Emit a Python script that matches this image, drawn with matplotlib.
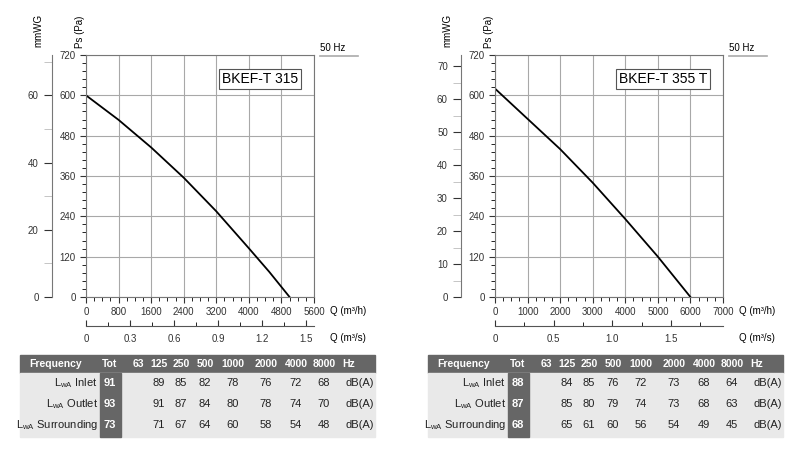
import matplotlib
matplotlib.use("Agg")
import matplotlib.pyplot as plt
from matplotlib.patches import Rectangle
import numpy as np

models = ["BKEF-T 315", "BKEF-T 355 T"]
q1 = [0, 800, 1600, 2400, 3200, 4000, 4500, 5000]
p1 = [600, 527, 445, 355, 255, 145, 75, 0]
q2 = [0, 1000, 2000, 3000, 4000, 5000, 6000]
p2 = [620, 530, 440, 340, 232, 120, 0]
freqs = ["63", "125", "250", "500", "1000", "2000", "4000", "8000"]
rows = ["Inlet", "Outlet", "Surrounding"]
tot1 = [91, 93, 73]
vals1 = [[None, 89, 85, 82, 78, 76, 72, 68], [None, 91, 87, 84, 80, 78, 74, 70], [None, 71, 67, 64, 60, 58, 54, 48]]
tot2 = [88, 87, 68]
vals2 = [[None, 84, 85, 76, 72, 73, 68, 64], [None, 85, 80, 79, 74, 73, 68, 63], [None, 65, 61, 60, 56, 54, 49, 45]]

W, H = 800, 461
fig = plt.figure(figsize=(8, 4.61), dpi=100)
plt.rcParams['font.family'] = ['Liberation Sans', 'DejaVu Sans']

def fx(x): return x / W
def fy(y): return 1 - y / H

def chart(x0, q, p, model, xmax, xstep, mmmax, mmstep, pa_per_mm, qs_ticks):
    ax = fig.add_axes([fx(x0), fy(297), 228 / W, 242 / H])
    ax.plot(q, p, color='black', lw=1.3)
    ax.set_xlim(0, xmax); ax.set_ylim(0, 720)
    ax.set_xticks(np.arange(0, xmax + 1, xstep))
    ax.set_yticks(np.arange(0, 721, 120))
    ax.set_xticks(np.arange(0, xmax + 1, xstep / 4), minor=True)
    ax.set_yticks(np.arange(0, 721, 24), minor=True)
    ax.grid(True, color='#a8a8a8', lw=0.8)
    ax.tick_params(labelsize=7, colors='#333333', length=4)
    ax.tick_params(which='minor', length=3)
    for s in ax.spines.values(): s.set_color('#777777')
    ax.text(0.93, 0.93, model, transform=ax.transAxes, ha='right', va='top', fontsize=10,
            bbox=dict(fc='white', ec='#555555', pad=2, lw=0.8))
    fig.text(fx(x0 + 244), fy(311), "Q (m³/h)", fontsize=7, va='center')
    fig.text(fx(x0 - 6), fy(32), "Ps (Pa)", fontsize=7, rotation=90, ha='center', va='center')
    fig.text(fx(x0 - 48), fy(30), "mmWG", fontsize=7, rotation=90, ha='center', va='center')
    fig.text(fx(x0 + 234), fy(48), "50 Hz", fontsize=7, va='center')
    fig.add_artist(plt.Line2D([fx(x0 + 234), fx(x0 + 272)], [fy(56), fy(56)], color='#aaaaaa', lw=1.2))
    am = fig.add_axes([fx(x0 - 34), fy(297), 0.001, 242 / H])
    am.set_ylim(0, 720 / pa_per_mm)
    am.set_yticks(np.arange(0, mmmax + 1, mmstep))
    am.set_yticks(np.arange(0, 720 / pa_per_mm, mmstep / 2), minor=True)
    am.set_xticks([])
    for s in ['top', 'right', 'bottom']: am.spines[s].set_visible(False)
    am.spines['left'].set_color('#777777')
    am.tick_params(labelsize=7, colors='#333333', length=6)
    am.tick_params(which='minor', length=6, color='#bbbbbb')
    aq = fig.add_axes([fx(x0), fy(326), 228 / W, 0.001])
    aq.set_xlim(0, xmax / 3600)
    aq.set_yticks([])
    aq.set_xticks(qs_ticks)
    aq.set_xticklabels([("%g" % t) if t != 1.0 else "1.0" for t in qs_ticks])
    aq.set_xticks(np.arange(0, xmax / 3600, qs_ticks[1] / 2), minor=True)
    for s in ['left', 'right', 'bottom']: aq.spines[s].set_visible(False)
    aq.spines['top'].set_color('#555555')
    aq.xaxis.set_ticks_position('top')
    aq.tick_params(axis='x', labelsize=7, colors='#333333', length=4, labeltop=False, labelbottom=True, pad=2)
    aq.tick_params(which='minor', length=3)
    fig.text(fx(x0 + 244), fy(338), "Q (m³/s)", fontsize=7, va='center')

chart(86, q1, p1, models[0], 5600, 800, 60, 20, 10.0, [0, 0.3, 0.6, 0.9, 1.2, 1.5])
chart(495, q2, p2, models[1], 7000, 1000, 70, 10, 9.81, [0, 0.5, 1.0, 1.5])

def table(x0, tot, vals):
    dark = '#666666'
    fig.add_artist(Rectangle((fx(x0), fy(373)), 355 / W, 18 / H, color=dark, transform=fig.transFigure))
    fig.add_artist(Rectangle((fx(x0), fy(437)), 355 / W, 64 / H, color='#e9e9e9', transform=fig.transFigure))
    fig.add_artist(Rectangle((fx(x0 + 80), fy(437)), 21 / W, 64 / H, color=dark, transform=fig.transFigure))
    hk = dict(color='white', fontsize=7.5, weight='bold', va='center')
    fig.text(fx(x0 + 36), fy(364), "Frequency", ha='center', **hk)
    fig.text(fx(x0 + 90), fy(364), "Tot", ha='center', **hk)
    cx = [118, 139, 161, 185, 213, 246, 276, 304]
    for c, f in zip(cx, freqs):
        fig.text(fx(x0 + c), fy(364), f, ha='center', **hk)
    fig.text(fx(x0 + 322), fy(364), "Hz", ha='left', **hk)
    ys = [383, 404, 425]
    for y, r, t, v in zip(ys, rows, tot, vals):
        fig.text(fx(x0 + 78), fy(y), r"L$_{\mathregular{wA}}$ " + r, fontsize=8, ha='right', va='center', color='#222222')
        fig.text(fx(x0 + 90), fy(y), str(t), fontsize=8, weight='bold', color='white', ha='center', va='center')
        for c, val in zip(cx, v):
            if val is not None:
                fig.text(fx(x0 + c), fy(y), str(val), fontsize=8, ha='center', va='center', color='#222222')
        fig.text(fx(x0 + 326), fy(y), "dB(A)", fontsize=8, ha='left', va='center', color='#222222')

table(20, tot1, vals1)
table(428, tot2, vals2)

fig.savefig("out.png", dpi=100)
